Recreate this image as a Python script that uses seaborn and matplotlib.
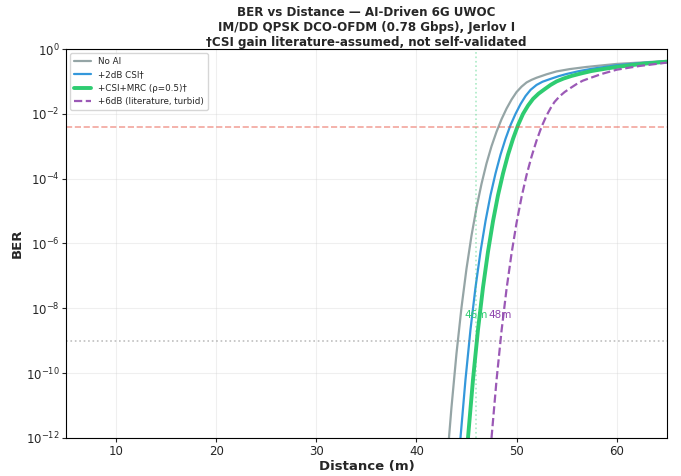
import numpy as np
import pandas as pd
import seaborn as sns
import matplotlib
matplotlib.use('Agg')
import matplotlib.pyplot as plt
from matplotlib.ticker import NullLocator

# values
dist_noai = [43.25, 43.5, 44.0, 44.5, 45.0, 45.5, 46.0, 46.5, 47.0, 47.5, 48.0, 48.5,
             49.0, 49.5, 50.0, 50.5, 51.0, 51.5, 52.0, 53.0, 54.0, 55.3, 57.0, 60.0, 65.0]
ber_noai = [1.0e-12, 8.7e-12, 4.0e-10, 1.05e-8, 1.66e-7, 1.74e-6, 1.26e-5, 6.9e-5, 2.95e-4,
            1.0e-3, 2.8e-3, 6.8e-3, 1.45e-2, 2.75e-2, 4.7e-2, 6.9e-2, 9.3e-2, 1.12e-1,
            1.3e-1, 1.66e-1, 2.04e-1, 2.4e-1, 2.8e-1, 3.47e-1, 4.27e-1]

dist_csi = [44.4, 44.9, 45.4, 45.9, 46.4, 46.9, 47.4, 47.9, 48.4, 48.9, 49.4, 49.9,
            50.4, 50.9, 51.4, 52.0, 52.6, 53.3, 54.2, 55.0, 56.3, 57.5, 60.0, 62.5, 65.0]
ber_csi = [1.0e-12, 6.3e-11, 2.2e-9, 4.4e-8, 5.6e-7, 4.9e-6, 3.1e-5, 1.45e-4, 5.5e-4,
           1.7e-3, 4.5e-3, 1.0e-2, 2.0e-2, 3.55e-2, 5.5e-2, 7.8e-2, 9.8e-2, 1.17e-1,
           1.45e-1, 1.7e-1, 2.1e-1, 2.45e-1, 3.16e-1, 3.7e-1, 4.17e-1]

dist_mrc = [45.15, 45.65, 46.15, 46.65, 47.15, 47.65, 48.15, 48.65, 49.15, 49.65, 50.15,
            50.65, 51.15, 51.65, 52.2, 52.8, 53.4, 54.0, 54.7, 55.5, 56.5, 57.5, 58.8,
            60.0, 62.5, 65.0]
ber_mrc = [1.0e-12, 6.3e-11, 2.2e-9, 4.4e-8, 5.6e-7, 4.9e-6, 3.1e-5, 1.45e-4, 5.5e-4,
           1.7e-3, 4.5e-3, 1.0e-2, 1.8e-2, 2.9e-2, 4.2e-2, 5.75e-2, 7.8e-2, 1.0e-1,
           1.23e-1, 1.48e-1, 1.78e-1, 2.1e-1, 2.45e-1, 2.8e-1, 3.47e-1, 4.07e-1]

dist_6db = [47.5, 48.0, 48.5, 49.0, 49.5, 50.0, 50.5, 51.0, 51.5, 52.0, 52.5, 53.0,
            53.5, 53.8, 54.3, 54.8, 55.4, 56.0, 56.6, 57.3, 58.5, 60.0, 62.3, 65.0]
ber_6db = [1.0e-12, 6.0e-11, 2.0e-9, 3.9e-8, 4.9e-7, 4.3e-6, 2.7e-5, 1.29e-4, 4.8e-4,
           1.5e-3, 4.0e-3, 8.9e-3, 1.7e-2, 2.34e-2, 3.47e-2, 4.7e-2, 6.3e-2, 8.3e-2,
           1.05e-1, 1.26e-1, 1.7e-1, 2.3e-1, 3.0e-1, 3.8e-1]

fec_limit = 3.8e-3
target_ber = 1e-9
range_marks = [46.0, 48.4]
range_labels = ['46m', '48m']

sns.set_style('ticks')
fig, ax = plt.subplots(figsize=(6.81, 4.76), dpi=100)
fig.subplots_adjust(left=0.097, right=0.979, top=0.897, bottom=0.080)

sns.lineplot(x=dist_noai, y=ber_noai, ax=ax, color='#95a5a6', lw=1.6, label='No AI')
sns.lineplot(x=dist_csi, y=ber_csi, ax=ax, color='#3498db', lw=1.6, label='+2dB CSI\u2020')
sns.lineplot(x=dist_mrc, y=ber_mrc, ax=ax, color='#2ecc71', lw=2.8, label='+CSI+MRC (\u03c1=0.5)\u2020')
sns.lineplot(x=dist_6db, y=ber_6db, ax=ax, color='#9b59b6', lw=1.6, ls='--',
             label='+6dB (literature, turbid)')

ax.axhline(fec_limit, color='#e74c3c', ls='--', lw=1.2, alpha=0.5)
ax.axhline(target_ber, color='gray', ls=':', lw=1.2, alpha=0.5)
ax.axvline(range_marks[0], color='#2ecc71', ls=':', lw=1.2, alpha=0.4)

ax.text(range_marks[0], 6e-9, range_labels[0], color='#2ecc71', fontsize=7.5,
        ha='center', va='center')
ax.text(range_marks[1], 6e-9, range_labels[1], color='#8e44ad', fontsize=7.5,
        ha='center', va='center')

ax.set_yscale('log')
ax.set_xlim(5, 65)
ax.set_ylim(1e-12, 1)
ax.set_yticks([1e0, 1e-2, 1e-4, 1e-6, 1e-8, 1e-10, 1e-12])
ax.yaxis.set_minor_locator(NullLocator())
ax.set_xticks([10, 20, 30, 40, 50, 60])
ax.tick_params(labelsize=8.5, length=3, pad=1.8)
ax.grid(True, alpha=0.3)
for s in ax.spines.values():
    s.set_visible(True)
    s.set_color('black')

ax.set_xlabel('Distance (m)', fontsize=9.5, fontweight='bold', labelpad=2)
ax.set_ylabel('BER', fontsize=9.5, fontweight='bold', labelpad=1)
ax.set_title('BER vs Distance \u2014 AI-Driven 6G UWOC\nIM/DD QPSK DCO-OFDM (0.78 Gbps), Jerlov I\n'
             '\u2020CSI gain literature-assumed, not self-validated',
             fontsize=8.6, fontweight='bold', pad=2.5)
ax.legend(loc='upper left', fontsize=6.3, frameon=True)

plt.savefig('out.png', dpi=100)
plt.close()
